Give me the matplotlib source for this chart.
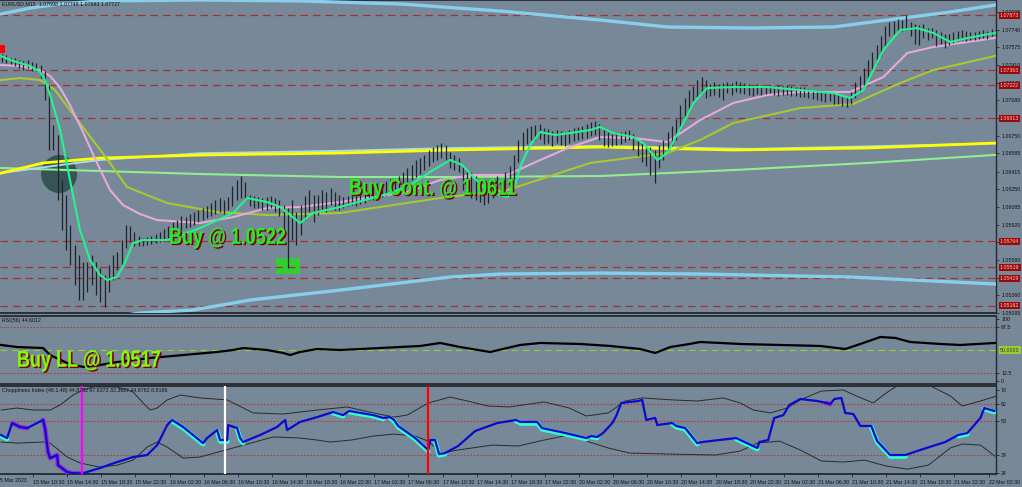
import matplotlib
matplotlib.use("Agg")
import matplotlib.pyplot as plt
from matplotlib.patches import Ellipse, Rectangle, PathPatch
from matplotlib.textpath import TextPath
from matplotlib.font_manager import FontProperties
from matplotlib.transforms import Affine2D, ScaledTranslation
import numpy as np

# ---------------- data ----------------
# 30-minute price bars (high / low in pips above 1.0500), bar j centred at M15 index 2j+0.5
bar_hi = [251,250,248,248,246,245,246,244,243,241,235,222,185,176,134,120,92,73,64,57,
          57,64,57,51,45,54,64,66,78,92,91,85,81,79,80,81,83,85,88,91,
          94,96,100,99,102,104,106,107,109,112,115,117,115,118,128,134,137,132,120,119,
          118,117,118,119,117,115,110,107,115,104,110,119,124,120,120,124,122,126,122,120,
          118,119,120,120,122,124,124,128,131,130,133,135,134,137,141,145,148,152,154,157,
          162,164,166,168,166,160,157,154,148,143,141,137,135,129,132,135,137,135,141,147,
          157,171,178,182,184,185,186,182,181,179,180,179,178,180,182,183,184,186,188,189,
          186,182,178,177,178,178,179,180,177,172,168,165,164,162,166,171,178,184,191,204,
          210,218,221,227,230,227,223,225,223,224,225,224,226,225,224,223,222,223,222,221,
          222,221,222,221,222,221,220,220,220,219,218,218,217,215,216,215,213,211,212,216,
          225,231,238,246,253,260,268,277,281,282,284,283,288,281,279,278,279,276,276,274,
          272,270,270,272,273,274,273,272,272,273,274,273,275]
bar_lo = [244,243,242,240,238,236,238,235,235,229,208,162,162,115,87,68,54,36,22,22,
          29,36,26,20,15,29,40,50,54,70,76,72,72,72,73,74,75,76,78,79,
          81,85,87,89,90,92,94,96,98,100,102,104,102,106,109,115,117,115,109,107,
          107,106,106,107,104,100,81,51,78,73,82,96,104,94,101,106,104,110,106,106,
          107,109,110,109,111,112,115,115,117,118,120,121,122,124,126,130,134,136,139,143,
          147,150,152,154,152,145,143,141,124,120,117,115,113,110,112,117,119,120,124,128,
          135,150,162,167,171,171,172,167,168,165,168,166,165,168,170,171,172,173,175,176,
          171,165,164,165,166,167,169,171,162,156,150,147,138,131,145,152,160,165,171,180,
          190,199,206,211,214,210,212,213,211,208,215,213,216,215,214,213,212,214,213,214,
          215,213,212,213,213,212,212,211,211,210,209,208,207,206,207,205,205,203,202,205,
          210,215,220,227,234,242,249,259,268,270,272,273,274,268,261,260,266,264,266,259,
          261,257,260,262,263,264,263,264,264,265,266,265,268]

# moving averages: (M15 bar index, pips above 1.0500)
fast_x = [0,4.2,8.9,13.6,18.3,20.6,23.0,25.3,27.7,32.3,37.0,41.7,46.4,49.7,54.4,58.2,61.9,66.6,77.9,93.3,
          108.8,115.4,124.8,130.9,135.5,140.2,146.3,159.0,170.7,182.4,191.8,202.6,210.6,216.2,221.4,229.3,237.3,241.1,243.4,248.1,
          252.8,259.8,266.9,276.2,280.9,287.0,296.4,301.1,307.7,312.4,316.1,319.9,324.6,331.1,343.3,359.3,374.7,390.2,398.2,404.3,
          409.0,413.7,421.6,429.6,437.1,445.1,453.1,466]
fast_y = [249.4,245.7,242.9,240.1,234.5,227.0,213.0,197.1,180.3,133.6,86.9,58.9,44.8,40.2,43.0,57.0,74.7,77.5,77.5,88.7,
          102.8,116.8,113.0,108.4,100.9,93.4,102.8,108.4,114.9,121.4,128.9,142.9,152.3,147.6,136.4,121.4,117.7,128.9,145.7,166.3,
          178.4,175.6,177.5,180.3,183.1,177.5,173.7,168.1,152.3,158.8,172.8,186.8,205.5,219.5,220.4,220.4,217.6,214.8,210.2,217.6,
          236.3,255.0,273.7,275.5,270.9,262.5,266.2,270.9]
mid_x = [0,8.9,18.3,23.0,27.7,32.3,38.0,45.0,51.1,57.2,65.2,73.2,93.3,108.8,124.8,140.2,159.0,174.5,190.4,205.9,
         221.4,237.3,252.8,266.9,280.9,296.4,312.4,327.8,343.3,359.3,374.7,398.2,413.7,424.9,437.1,453.1,466]
mid_y = [241.0,240.1,236.3,230.7,219.5,203.6,180.3,149.5,124.2,110.2,101.8,96.2,93.4,99.0,107.4,108.4,113.0,117.7,122.4,133.6,
         138.3,138.3,152.3,164.4,173.7,172.8,169.1,189.6,205.5,213.0,215.8,215.8,229.8,252.2,257.8,262.5,266.2]
slow_x = [0,8.9,18.3,25.3,32.3,39.4,51.1,59.1,77.9,101.3,124.8,159.0,205.9,237.3,276.2,312.4,327.8,343.3,374.7,399.6,
          421.6,437.1,466]
slow_y = [227.0,228.8,227.0,217.6,199.0,180.3,149.5,127.0,112.1,103.7,100.9,102.8,116.8,124.2,149.5,158.8,171.0,186.8,200.8,204.6,
          224.2,236.3,249.4]
yel_x = [0,19.7,46.4,93.3,159.0,210.6,280.9,343.3,406.2,466]
yel_y = [140.1,149.5,154.1,156.9,158.8,161.6,164.4,161.6,163.5,168.1]
lgr_x = [0,46.4,93.3,159.0,210.6,280.9,343.3,406.2,466]
lgr_y = [144.8,142.0,139.2,136.4,136.4,137.3,142.9,149.5,157.0]
bbu_x = [0,13.6,27.7,46.4,93.3,140.2,187.1,234.0,280.9,312.4,351.3,390.2,415.5,445.1,466]
bbu_y = [288.6,294.2,298.0,300.8,301.7,300.8,298.0,291.4,283.0,276.5,275.5,276.5,283.0,290.5,297.0]
bbl_x = [0,27.7,46.4,65.2,90.0,116.8,159.0,210.6,234.0,280.9,327.8,398.2,466]
bbl_y = [-8.4,-2.8,3.8,9.4,12.2,21.5,30.8,43.0,45.8,46.7,45.8,43.0,36.5]
bbm_x = [0,27.7,46.4,93.3,159.0,210.6,280.9,351.3,398.2,466]
bbm_y = [140.1,147.6,152.3,158.6,160.8,163.4,165.3,162.6,164.6,167.8]

levels = [1.07873, 1.07363, 1.07222, 1.06913, 1.05764, 1.05519, 1.05419, 1.05162]
price_ticks = [1.07905,1.07740,1.07575,1.07410,1.07245,1.07080,1.06915,1.06750,1.06585,
               1.06415,1.06250,1.06085,1.05920,1.05755,1.05590,1.05425,1.05260,1.05095]

rsi_x = [0,7.5,19.7,23,31,38.5,46.4,54.4,69.9,85.4,101.3,108.8,113.5,124.7,132.3,135.5,140.2,148.2,159,177.8,
         196.6,205.9,215.3,229.3,243.4,252.8,271.5,285.6,299.7,306.7,313.8,322.8,327.8,346.6,365.3,384.1,395.8,402.9,412.3,419.3,
         426.3,440.4,449.7,466]
rsi_y = [58.1,54.8,53.2,41.9,29.0,22.6,25.8,30.6,37.1,41.9,46.8,50.0,53.2,50.0,45.2,41.9,46.8,51.6,50.0,53.2,
         56.5,61.3,54.8,46.8,58.1,61.3,59.7,56.5,51.6,45.2,54.8,59.7,62.9,59.7,58.1,56.5,51.6,59.7,71.0,69.4,
         62.9,59.7,58.1,61.3]

chop_x = [0,2.8,5.2,8.9,12.2,19.7,20.6,22.0,23.0,26.3,26.7,31.0,33.3,38.0,46.4,54.4,61.9,68.5,73.2,77.9,
          80.2,85.4,94.7,96.6,101.3,102.7,106.0,106.5,110.7,112.1,113.5,121.5,129.4,133.2,134.1,140.2,148.2,155.7,160.4,163.2,
          174.5,179.2,182.4,184.3,186.2,194.2,200.3,201.2,203.5,205.4,208.2,214.3,222.3,232.6,241.5,243.4,251.4,253.7,264.5,274.4,
          276.7,279.5,282.3,286.6,288.4,290.8,298.8,300.6,302.5,306.7,307.7,314.7,316.6,320.8,326.4,328.8,344.7,354.6,355.5,359.7,
          362.5,366.8,369.6,374.7,382.7,386.9,388.8,390.7,394.0,395.8,399.6,402.9,408.0,410.8,416.9,424.0,431.0,442.7,448.8,453.1,
          459.2,461.0,465.7]
chop_v = [45.1,43.4,51.7,49.5,48.9,53.4,48.9,35.7,32.3,34.0,28.4,24.6,24.0,23.8,26.8,30.1,32.9,34.0,39.5,50.6,
          53.4,49.5,40.6,43.4,47.8,42.3,42.3,50.6,48.9,43.4,41.2,45.1,49.5,53.4,47.8,52.3,55.0,57.8,56.1,58.4,
          56.1,54.5,55.0,53.4,50.1,43.4,36.8,42.3,42.3,34.5,35.1,39.0,47.3,51.7,53.4,52.3,52.3,48.9,46.2,43.4,
          44.5,44.0,46.2,51.7,55.6,62.8,63.9,64.5,53.4,54.5,50.6,51.7,50.1,48.9,40.6,41.2,43.4,37.9,41.2,42.3,
          54.5,56.1,61.7,65.0,63.9,62.8,62.2,65.0,65.6,57.3,56.7,50.1,50.1,41.7,34.0,34.0,36.8,41.2,45.1,46.2,
          54.5,60.0,58.4]
# 0 = plain, 1 = falling (cyan), 2 = purple — state of segment ending at point
chop_state = [1,1,0,2,2,0,2,2,2,2,2,2,2,2,0,0,0,0,0,0,
              0,1,1,0,0,1,1,0,0,1,1,0,0,0,0,0,0,0,1,0,
              1,1,0,1,1,1,1,0,0,1,1,0,0,0,0,1,1,1,1,1,
              0,1,0,0,0,0,0,0,0,0,0,0,1,1,1,0,0,1,0,0,
              0,0,0,0,0,0,2,0,0,0,0,0,0,1,1,1,0,0,0,1,
              0,0,1]
chopu_x = [0,7.5,15,23,27.7,33.8,38.5,43.2,54.4,61.9,66.6,69.9,73.2,77.9,84,93.3,106,118.2,132.3,148.2,
           162.3,174.5,184.3,190.4,200.3,210.6,218.6,228.4,238.3,254.7,266.4,274.4,284.7,292.7,300.6,314.7,326.4,338.6,346.6,352.7,
           360.7,368.6,374.7,384.6,394.9,401,408.9,415,420.7,427.3,434.8,445.1,450.7,459.2,467]
chopu_v = [58.9,60.0,58.9,58.9,61.7,67.2,70.0,71.7,71.7,68.9,62.8,58.9,60.0,64.5,67.2,65.6,64.5,57.3,56.7,58.9,
           60.6,57.3,55.0,56.1,62.8,66.1,63.9,61.1,60.6,63.4,60.0,55.6,57.3,63.9,65.6,64.5,63.9,65.6,62.8,58.9,
           57.3,60.0,64.5,69.4,70.0,66.7,62.8,68.3,72.8,75.5,72.8,66.7,61.1,63.9,66.7]
chopl_x = [0,7.5,19.7,23,31,37,46.4,54.4,61.9,68.5,73.2,77.9,85.4,93.3,108.8,127.6,140.2,148.2,154.3,164.2,
           174.5,184.3,194.2,200.3,206.4,214.3,230.3,242.5,254.7,266.4,274.4,284.7,294.6,314.7,334.9,346.6,354.6,364.9,374.7,384.6,
           394.9,404.8,415,424.9,434.8,445.1,450.7,459.2,466]
chopl_v = [41.2,40.6,41.2,40.6,32.9,29.6,27.3,28.4,31.2,38.4,41.2,38.4,32.3,32.9,37.9,44.0,43.4,42.3,41.2,42.3,
           44.5,45.6,44.5,41.7,35.1,36.8,39.5,39.0,42.3,45.1,41.7,37.9,35.1,34.5,34.0,36.2,40.6,41.7,36.8,30.7,
           30.1,31.2,27.9,26.2,28.4,37.9,40.1,39.5,33.4]

signal_bars = [38.0, 105.2, 200.3]
signal_colors = ['#FF00FF', '#FFFFFF', '#FF0000']

time_tick_bars = [15 + 16 * k for k in range(29)]
time_labels = ["15 Mar 10:30","15 Mar 14:30","15 Mar 18:30","15 Mar 22:30",
               "16 Mar 02:30","16 Mar 06:30","16 Mar 10:30","16 Mar 14:30","16 Mar 18:30","16 Mar 22:30",
               "17 Mar 02:30","17 Mar 06:30","17 Mar 10:30","17 Mar 14:30","17 Mar 18:30","17 Mar 22:30",
               "20 Mar 02:30","20 Mar 06:30","20 Mar 10:30","20 Mar 14:30","20 Mar 18:30","20 Mar 22:30",
               "21 Mar 02:30","21 Mar 06:30","21 Mar 10:30","21 Mar 14:30","21 Mar 18:30","21 Mar 22:30",
               "22 Mar 02:30"]

# ---------------- style ----------------
BG = '#778899'
SMALL = ['Liberation Sans', 'DejaVu Sans']
FS = 3.8
DARK = '#25292d'
TXT = '#101010'

def P(v):
    return 1.05 + np.asarray(v, dtype=float) * 1e-4

W, H = 1022, 487
fig = plt.figure(figsize=(W / 100, H / 100), dpi=100, facecolor=BG)
ax = fig.add_axes([0, 174 / H, 996 / W, 313 / H], facecolor=BG)
rsi = fig.add_axes([0, 103 / H, 996 / W, 68 / H], facecolor=BG)
chop = fig.add_axes([0, 13 / H, 996 / W, 88 / H], facecolor=BG)

BIGFONT = FontProperties(family=['Liberation Sans', 'DejaVu Sans'], weight='bold')


def big_text(axis, x, y, s, color, size=23, sx=0.785):
    """condensed bold label with a dark-red drop shadow, left edge at x, centred on y"""
    tp = TextPath((0, 0), s, size=size, prop=BIGFONT)
    bb = tp.get_extents()
    base = Affine2D().translate(-bb.x0, -(bb.y0 + bb.y1) / 2).scale(sx, 1.0)
    anchor = ScaledTranslation(x, y, axis.transData)
    sh = PathPatch(tp, transform=base + Affine2D().translate(1.6, -1.3) + anchor,
                   fc='#7a0000', ec='none', zorder=9)
    fg = PathPatch(tp, transform=base + anchor, fc=color, ec='none', zorder=10)
    axis.add_artist(sh)
    axis.add_artist(fg)


XL = (-0.5, 466.5)
for a in (ax, rsi, chop):
    a.set_xlim(*XL)
    a.spines['left'].set_visible(False)
    for s in ('top', 'bottom'):
        a.spines[s].set_color(DARK)
        a.spines[s].set_linewidth(1.3)
    a.spines['right'].set_color(DARK)
    a.spines['right'].set_linewidth(1.0)
    a.yaxis.tick_right()
    a.tick_params(axis='y', length=2.5, width=0.6, color=DARK, labelsize=FS, pad=1.2, labelcolor=TXT)

# ---- main panel ----
ax.set_ylim(1.05094, 1.08017)
ax.set_xticks([])
ax.set_yticks(price_ticks)
ax.set_yticklabels([f"{t:.5f}" for t in price_ticks], family=SMALL, fontsize=FS)

ax.add_patch(Ellipse((27.2, 1.06392), 16.9, 0.00355, fc='#2F4F4F', ec='none', alpha=0.9, zorder=1))
ax.add_patch(Rectangle((128.9, 1.05458), 11.3, 0.00149, fc='#33CC33', ec='none', zorder=1))

for lv in levels:
    ax.axhline(lv, color='#A3312E', lw=0.9, dashes=(6, 4), zorder=2)
    ax.text(1.004, lv, f"{lv:.5f}", transform=ax.get_yaxis_transform(), ha='left', va='center',
            fontsize=FS, family=SMALL, color='#ffc8c8', clip_on=False, zorder=10,
            bbox=dict(boxstyle='square,pad=0.2', fc='#9a0a0a', ec='none'))

ax.plot(bbu_x, P(bbu_y), color='#87CEEB', lw=2.4, zorder=3, solid_capstyle='round')
ax.plot(bbl_x, P(bbl_y), color='#87CEEB', lw=2.4, zorder=3, solid_capstyle='round')
ax.plot(lgr_x, P(lgr_y), color='#90EE90', lw=1.5, zorder=3)
ax.plot(bbm_x, P(bbm_y), color='#a8dcef', lw=1.4, zorder=3)
ax.plot(yel_x, P(yel_y), color='#FFFF00', lw=2.0, zorder=3)
ax.plot(slow_x, P(slow_y), color='#A8C832', lw=1.5, zorder=4)
ax.plot(mid_x, P(mid_y), color='#E8A8DC', lw=1.5, zorder=4)

bx = np.arange(len(bar_hi)) * 2 + 0.5
ax.vlines(bx, P(bar_lo), P(bar_hi), color='#202428', lw=0.9, zorder=5)
ax.plot(fast_x, P(fast_y), color='#22F58C', lw=1.5, zorder=6)

ax.add_patch(Rectangle((-0.5, 1.07522), 2.4, 0.00075, fc='#FF0000', ec='none', zorder=8))

ax.text(0.002, 0.995, "EURUSD,M15  1.07698 1.07748 1.07693 1.07727", transform=ax.transAxes,
        ha='left', va='top', fontsize=FS, family=SMALL, color=TXT, zorder=9)

big_text(ax, 79.3, 1.05794, "Buy @ 1.0522", '#22EE22')
big_text(ax, 163.7, 1.06252, "Buy Cont. @ 1.0611", '#22EE22')

# ---- RSI panel ----
rsi.set_ylim(-4.8, 104.8)
rsi.set_xticks([])
rsi.set_yticks([100, 87.5, 12.5, 0])
rsi.set_yticklabels(["100", "87.5", "12.5", "0"], family=SMALL, fontsize=FS)
for lv in (87.5, 12.5):
    rsi.axhline(lv, color='#B23A3A', lw=0.8, ls=(0, (1.5, 1.5)))
rsi.axhline(50, color='#9ACD32', lw=0.8, dashes=(6, 4))
rsi.plot(rsi_x, rsi_y, color='#000000', lw=1.6, zorder=4)
rsi.text(1.004, 50, "50.0000", transform=rsi.get_yaxis_transform(), ha='left', va='center',
         fontsize=FS, family=SMALL, color='#333333', clip_on=False,
         bbox=dict(boxstyle='square,pad=0.2', fc='#9ACD32', ec='none'))
rsi.text(0.002, 0.97, "RSI(56) 44.6012", transform=rsi.transAxes, ha='left', va='top',
         fontsize=FS, family=SMALL, color=TXT)
big_text(rsi, 8.0, 32.3, "Buy LL @ 1.0517", '#80FF00')

# ---- Choppiness panel ----
chop.set_ylim(23.5, 72.2)
chop.set_yticks([70, 62, 53, 34, 24])
chop.set_yticklabels(["70", "62", "53", "34", "24"], family=SMALL, fontsize=FS)
for lv in (62, 53, 34):
    chop.axhline(lv, color='#B23A3A', lw=0.8, ls=(0, (1.5, 1.5)))
chop.plot(chopu_x, chopu_v, color='#2b2b2b', lw=0.7)
chop.plot(chopl_x, chopl_v, color='#2b2b2b', lw=0.7)
cx = np.asarray(chop_x)
cv = np.asarray(chop_v)
for i in range(1, len(cx)):
    st = chop_state[i]
    if st == 1:
        chop.plot(cx[i-1:i+1], cv[i-1:i+1] - 0.6, color='#30FFD0', lw=3.4, solid_capstyle='round', zorder=3)
    elif st == 2:
        chop.plot(cx[i-1:i+1], cv[i-1:i+1], color='#9932CC', lw=3.4, solid_capstyle='round', zorder=3)
chop.plot(cx, cv, color='#0a0ad0', lw=1.6, zorder=4)
for b, c in zip(signal_bars, signal_colors):
    chop.axvline(b, color=c, lw=1.6, zorder=5)
chop.text(0.002, 0.975, "Choppiness Index (48,1.48) 44.8782 67.6373 32.3627 44.8782 8.8186",
          transform=chop.transAxes, ha='left', va='top', fontsize=FS, family=SMALL, color=TXT, zorder=6)

chop.set_xticks(time_tick_bars)
chop.set_xticklabels(time_labels, family=SMALL, fontsize=FS, color=TXT)
for lab in chop.get_xticklabels():
    lab.set_horizontalalignment('left')
chop.tick_params(axis='x', length=2.5, width=0.6, color=DARK, pad=1.5)
chop.text(-2.0, -0.045, "15 Mar 2023", transform=chop.get_xaxis_transform(), ha='left', va='top',
          fontsize=FS, family=SMALL, color=TXT, clip_on=False)

fig.savefig("out.png", dpi=100, facecolor=BG)
